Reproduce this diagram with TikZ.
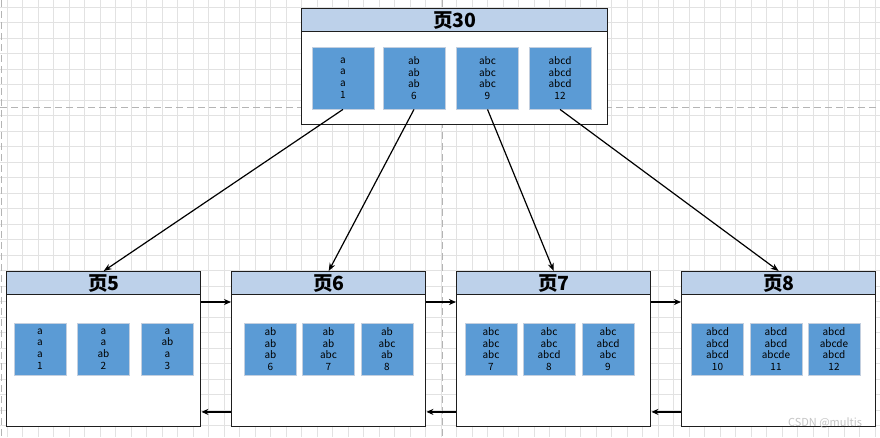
\documentclass[tikz,border=0pt]{standalone}
\usepackage{fontspec}
\setmainfont{Noto Sans CJK SC}
\usetikzlibrary{arrows.meta}
\definecolor{hdrblue}{HTML}{BDD1EA}
\definecolor{cellblue}{HTML}{5B9BD5}
\definecolor{cellborder}{HTML}{C3CFDF}
\definecolor{gridc}{HTML}{E2E2E2}
\definecolor{dashc}{HTML}{B4B4B4}
\definecolor{boxline}{HTML}{1E1E1E}
\definecolor{wmark}{HTML}{C4C4C4}
\begin{document}
\begin{tikzpicture}[x=1pt,y=-1pt,
  hdr/.style={draw=boxline, line width=1.4pt, fill=hdrblue, minimum width=194, minimum height=23, inner sep=0pt, anchor=north west, font=\fontsize{19.5}{20}\selectfont\bfseries},
  body/.style={draw=boxline, line width=1.4pt, fill=white, minimum width=194, minimum height=132, inner sep=0pt, anchor=north west},
  cell/.style={draw=cellborder, line width=0.8pt, fill=cellblue, minimum width=52, minimum height=52, inner sep=0pt, align=center, font=\fontsize{10}{11.7}\selectfont, text=black},
  bigcell/.style={cell, minimum width=62, minimum height=62},
  arr/.style={draw=black, line width=1.2pt, -{Stealth[length=8pt,width=6pt]}},
  harr/.style={draw=black, line width=2pt, -{Stealth[length=7pt,width=6pt]}},
  gridline/.style={draw=gridc, line width=0.8pt},
  guide/.style={draw=dashc, line width=0.9pt, dash pattern=on 7pt off 4pt}
]
\useasboundingbox (0,0) rectangle (880,437);
\fill[white] (0,0) rectangle (880,437);
% grid
\foreach \i in {0,...,56} \draw[gridline] ({7.3+15.5*\i},0) -- ({7.3+15.5*\i},437);
\foreach \j in {0,...,28} \draw[gridline] (0,{7.3+15.5*\j}) -- (880,{7.3+15.5*\j});
\draw[guide] (0,107.3) -- (880,107.3);
\draw[guide] (442.5,0) -- (442.5,437);
\draw[guide] (1.5,0) -- (1.5,437);

% top page 30
\node[body, minimum width=306, minimum height=93] (b30) at (301,31) {};
\node[hdr, minimum width=306] (h30) at (301,8) {页30};
\node[bigcell] (c30a) at (343,78) {a\\a\\a\\1};
\node[bigcell] (c30b) at (414,78) {ab\\ab\\ab\\6};
\node[bigcell] (c30c) at (487.5,78) {abc\\abc\\abc\\9};
\node[bigcell] (c30d) at (560,78) {abcd\\abcd\\abcd\\12};

% page 5
\node[body] (b5) at (6,294) {};
\node[hdr] (h5) at (6,271) {页5};
\node[cell] (c5a) at (40,349) {a\\a\\a\\1};
\node[cell] (c5b) at (103.5,349) {a\\a\\ab\\2};
\node[cell] (c5c) at (167.5,349) {a\\ab\\a\\3};

% page 6
\node[body] (b6) at (231,294) {};
\node[hdr] (h6) at (231,271) {页6};
\node[cell] (c6a) at (270.5,349) {ab\\ab\\ab\\6};
\node[cell] (c6b) at (328.5,349) {ab\\ab\\abc\\7};
\node[cell] (c6c) at (387,349) {ab\\abc\\ab\\8};

% page 7
\node[body] (b7) at (456,294) {};
\node[hdr] (h7) at (456,271) {页7};
\node[cell] (c7a) at (491,349) {abc\\abc\\abc\\7};
\node[cell] (c7b) at (549,349) {abc\\abc\\abcd\\8};
\node[cell] (c7c) at (608,349) {abc\\abcd\\abc\\9};

% page 8
\node[body] (b8) at (681,294) {};
\node[hdr] (h8) at (681,271) {页8};
\node[cell] (c8a) at (717.5,349) {abcd\\abcd\\abcd\\10};
\node[cell] (c8b) at (776,349) {abcd\\abcd\\abcde\\11};
\node[cell] (c8c) at (834,349) {abcd\\abcde\\abcd\\12};

% tree arrows
\draw[arr] (c30a.south) -- (h5.north);
\draw[arr] (c30b.south) -- (h6.north);
\draw[arr] (c30c.south) -- (h7.north);
\draw[arr] (c30d.south) -- (h8.north);

% sibling links
\draw[harr] ([yshift=-8pt]b5.north east) -- ([yshift=-8pt]b6.north west);
\draw[harr] ([yshift=-8pt]b6.north east) -- ([yshift=-8pt]b7.north west);
\draw[harr] ([yshift=-8pt]b7.north east) -- ([yshift=-8pt]b8.north west);
\draw[harr] ([yshift=15.5pt]b6.south west) -- ([yshift=15.5pt]b5.south east);
\draw[harr] ([yshift=15.5pt]b7.south west) -- ([yshift=15.5pt]b6.south east);
\draw[harr] ([yshift=15.5pt]b8.south west) -- ([yshift=15.5pt]b7.south east);

% watermark
\node[text=wmark, font=\fontsize{11}{12}\selectfont, inner sep=0pt] (wm) at (825,423) {CSDN @multis};
\end{tikzpicture}
\end{document}
